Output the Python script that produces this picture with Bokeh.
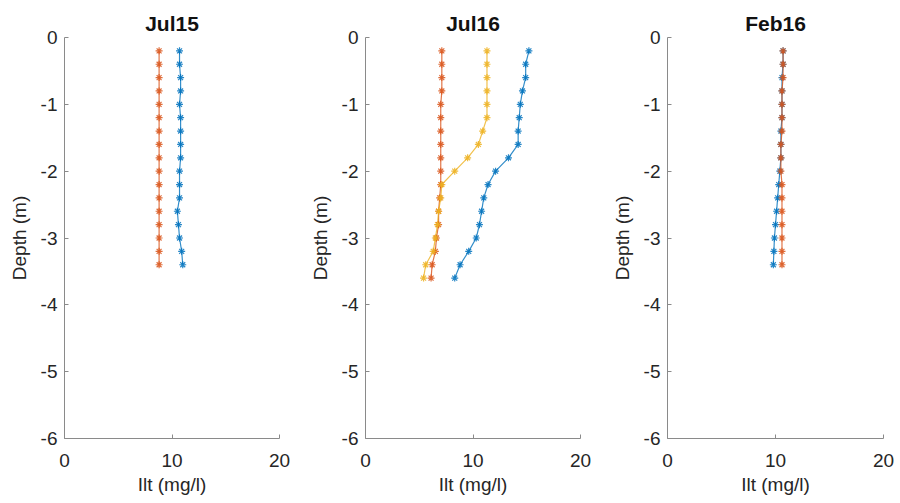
from bokeh.plotting import figure
from bokeh.layouts import row
from bokeh.models import FixedTicker, Range1d
from bokeh.embed import file_html
from bokeh.resources import INLINE

# ---- data ----
depth_17 = [-0.2, -0.4, -0.6, -0.8, -1.0, -1.2, -1.4, -1.6, -1.8, -2.0,
            -2.2, -2.4, -2.6, -2.8, -3.0, -3.2, -3.4]
depth_18 = [-0.2, -0.4, -0.6, -0.8, -1.0, -1.2, -1.4, -1.6, -1.8, -2.0,
            -2.2, -2.4, -2.6, -2.8, -3.0, -3.2, -3.4, -3.6]

jul15_blue = [10.7, 10.7, 10.8, 10.8, 10.7, 10.8, 10.8, 10.8, 10.8, 10.7,
              10.7, 10.7, 10.5, 10.6, 10.7, 10.9, 11.0]
jul15_red = [8.8, 8.8, 8.8, 8.8, 8.8, 8.8, 8.8, 8.8, 8.8, 8.8,
             8.8, 8.8, 8.8, 8.8, 8.8, 8.8, 8.8]

jul16_blue = [15.2, 14.9, 14.9, 14.6, 14.4, 14.3, 14.2, 14.2, 13.3, 12.1,
              11.4, 11.0, 10.8, 10.6, 10.3, 9.6, 8.8, 8.3]
jul16_red = [7.1, 7.1, 7.1, 7.1, 7.0, 7.0, 7.0, 7.0, 7.0, 7.0,
             7.0, 6.9, 6.8, 6.8, 6.6, 6.5, 6.2, 6.1]
jul16_yellow = [11.3, 11.3, 11.3, 11.3, 11.3, 11.3, 10.9, 10.5, 9.5, 8.3,
                7.1, 7.0, 6.8, 6.7, 6.5, 6.3, 5.6, 5.4]

feb16_blue = [10.7, 10.7, 10.6, 10.6, 10.6, 10.6, 10.5, 10.5, 10.5, 10.4,
              10.3, 10.2, 10.1, 10.0, 9.9, 9.85, 9.8]
feb16_red = [10.7, 10.7, 10.7, 10.6, 10.6, 10.6, 10.6, 10.5, 10.5, 10.5,
             10.6, 10.6, 10.6, 10.6, 10.6, 10.6, 10.6]

titles = ["Jul15", "Jul16", "Feb16"]
x_ticks = [0, 10, 20]
y_ticks = [0, -1, -2, -3, -4, -5, -6]
y_tick_labels = ["0", "-1", "-2", "-3", "-4", "-5", "-6"]
x_label = "Ilt (mg/l)"
y_label = "Depth (m)"

BLUE = "#0072BD"
RED = "#D95319"
YELLOW = "#EDB120"
FONT = "Liberation Sans"


def make_panel(title, series, left, right):
    p = figure(width=300, height=503, output_backend="svg", toolbar_location=None,
               x_range=Range1d(0, 20), y_range=Range1d(-6, 0),
               min_border_left=left, min_border_right=right,
               min_border_top=37, min_border_bottom=65)
    p.title.text = title
    p.title.align = "center"
    p.title.text_font = FONT
    p.title.text_font_size = "21px"
    p.title.text_font_style = "bold"
    p.title.text_color = "#111111"
    p.title.offset = 0
    p.title.standoff = 6
    p.outline_line_color = None
    p.grid.visible = False
    for ax, ticks, lab in ((p.xaxis[0], x_ticks, x_label), (p.yaxis[0], y_ticks, y_label)):
        ax.ticker = FixedTicker(ticks=ticks)
        ax.axis_label = lab
        ax.axis_label_text_font = FONT
        ax.axis_label_text_font_size = "19px"
        ax.axis_label_text_font_style = "normal"
        ax.axis_label_text_color = "#262626"
        ax.major_label_text_font = FONT
        ax.major_label_text_font_size = "19px"
        ax.major_label_text_color = "#262626"
        ax.axis_line_color = "#8a8a8a"
        ax.major_tick_line_color = "#8a8a8a"
        ax.major_tick_in = 4
        ax.major_tick_out = 0
        ax.minor_tick_line_color = None
    p.yaxis.major_label_overrides = {t: s for t, s in zip(y_ticks, y_tick_labels)}
    p.xaxis.major_label_standoff = 15
    p.xaxis.axis_label_standoff = 4
    p.yaxis.major_label_standoff = 7
    p.yaxis.axis_label_standoff = 8
    for xs, ys, c in series:
        p.line(xs, ys, line_color=c, line_width=1.2, line_alpha=0.8)
        p.scatter(xs, ys, marker="asterisk", size=7, line_color=c, line_width=1.2, line_alpha=0.85)
    return p


p1 = make_panel(titles[0], [(jul15_blue, depth_17, BLUE), (jul15_red, depth_17, RED)], 64, 21)
p2 = make_panel(titles[1], [(jul16_blue, depth_18, BLUE), (jul16_red, depth_18, RED),
                            (jul16_yellow, depth_18, YELLOW)], 65, 20)
p3 = make_panel(titles[2], [(feb16_blue, depth_17, BLUE), (feb16_red, depth_17, RED)], 67, 17)

layout = row(p1, p2, p3)
open("out.html", "w").write(file_html(layout, INLINE))
